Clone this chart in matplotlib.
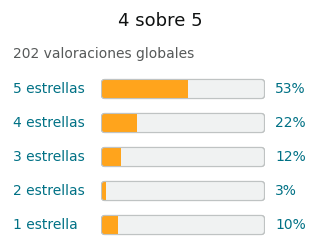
import matplotlib
matplotlib.use("Agg")
import matplotlib.pyplot as plt
from matplotlib.patches import FancyBboxPatch

title = "4 sobre 5"
subtitle = "202 valoraciones globales"
labels = ["5 estrellas", "4 estrellas", "3 estrellas", "2 estrellas", "1 estrella"]
values = [53, 22, 12, 3, 10]

fig = plt.figure(figsize=(3.2, 2.52), dpi=100)
fig.patch.set_facecolor("white")

ax = fig.add_axes([101/320, 10/252, 164/320, 170/252])
ax.set_xlim(-0.3, 100.3)
ax.set_ylim(-0.5, 4.5)
ax.axis("off")
ys = list(range(len(labels)))[::-1]

bg = ax.barh(ys, [100]*len(values), height=0.56, color="#F0F2F2")
fg = ax.barh(ys, values, height=0.56, color="#FFA41C", edgecolor="#E38A12", linewidth=0.6)

# px per data unit
px_x = 164 / 100.6
px_y = 34.0
aspect = px_x / px_y
r = 3.0 / px_x

for b, f in zip(bg.patches, fg.patches):
    b.set_visible(False)
    rb = FancyBboxPatch((b.get_x(), b.get_y()), b.get_width(), b.get_height(),
                        boxstyle=f"round,pad=0,rounding_size={r}", mutation_aspect=aspect,
                        facecolor="#F0F2F2", edgecolor="#BFC3C3", linewidth=0.8, zorder=1)
    ax.add_patch(rb)
    f.set_zorder(2)
    f.set_clip_path(rb)
    outline = FancyBboxPatch((b.get_x(), b.get_y()), b.get_width(), b.get_height(),
                        boxstyle=f"round,pad=0,rounding_size={r}", mutation_aspect=aspect,
                        facecolor="none", edgecolor="#BFC3C3", linewidth=0.8, zorder=3)
    ax.add_patch(outline)
    f.set_edgecolor("none")

for y, lab, v in zip(ys, labels, values):
    ax.text(-54, y, lab, ha="left", va="center", fontsize=10, color="#007185")
    ax.text(106.7, y, f"{v}%", ha="left", va="center", fontsize=10, color="#007185")

fig.text(0.5, 1 - 21/252, title, ha="center", va="center", fontsize=13, color="#0F1111")
fig.text(13/320, 1 - 54/252, subtitle, ha="left", va="center", fontsize=10, color="#565959")

fig.savefig("out.png", dpi=100)
